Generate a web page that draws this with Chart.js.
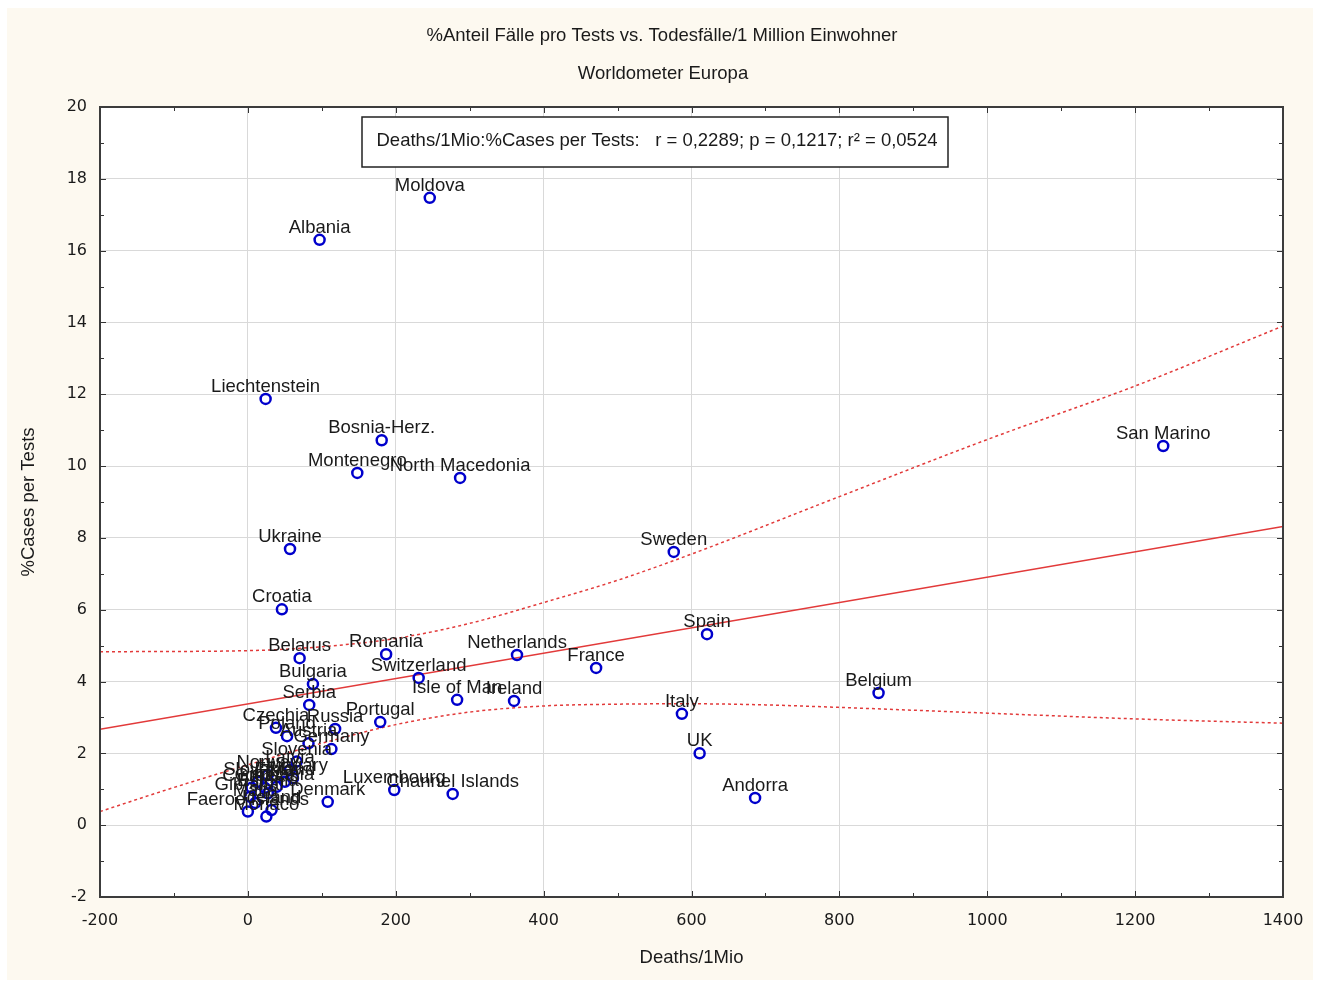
<!DOCTYPE html>
<html>
<head>
<meta charset="utf-8">
<script src="https://cdn.jsdelivr.net/npm/chart.js@4/dist/chart.umd.min.js"></script>
<style>
  html, body { margin: 0; padding: 0; background: #fff; }
  #wrap { width: 1320px; height: 981px; position: relative; }
</style>
</head>
<body>
<div id="wrap"><canvas id="chart"></canvas></div>
<script>
// Data
const countries = [
  'Moldova', 'Albania', 'Liechtenstein', 'Bosnia-Herz.', 'Montenegro', 'North Macedonia',
  'San Marino', 'Ukraine', 'Sweden', 'Croatia', 'Spain', 'Belarus', 'Romania', 'Netherlands',
  'France', 'Switzerland', 'Bulgaria', 'Belgium', 'Isle of Man', 'Ireland', 'Serbia', 'Italy',
  'Portugal', 'Czechia', 'Russia', 'Poland', 'Austria', 'Germany', 'UK', 'Andorra',
  'Luxembourg', 'Channel Islands', 'Denmark', 'Slovenia', 'Latvia', 'Hungary', 'Finland',
  'Norway', 'Slovakia', 'Lithuania', 'Greece', 'Cyprus', 'Estonia', 'Malta', 'Gibraltar',
  'Faeroe Islands', 'Iceland', 'Monaco'
];
const deathsPerMio = [
  246, 97, 24, 181, 148, 287,
  1238, 57, 576, 46, 621, 70, 187, 364,
  471, 231, 88, 853, 283, 360, 83, 587,
  179, 38, 118, 53, 82, 113, 611, 686,
  198, 277, 108, 66, 57, 61, 50,
  27, 14, 39, 23, 5, 27, 10, 3,
  0, 32, 25
];
const casesPerTests = [
  17.47, 16.30, 11.87, 10.72, 9.81, 9.67,
  10.56, 7.69, 7.61, 6.01, 5.32, 4.65, 4.76, 4.74,
  4.38, 4.10, 3.93, 3.68, 3.49, 3.46, 3.35, 3.10,
  2.87, 2.71, 2.68, 2.48, 2.28, 2.12, 2.00, 0.76,
  0.98, 0.87, 0.65, 1.77, 1.54, 1.31, 1.21,
  1.40, 1.21, 1.07, 1.04, 1.04, 0.89, 0.62, 0.79,
  0.38, 0.42, 0.24
];

// regression line and 95% band
const fitX = [-200, 1400];
const fitY = [2.67, 8.32];
const upperX = [-200, 0, 100, 200, 300, 400, 500, 600, 800, 1000, 1200, 1400];
const upperY = [4.83, 4.86, 4.97, 5.20, 5.62, 6.20, 6.82, 7.55, 9.15, 10.74, 12.23, 13.90];
const lowerX = [-200, -100, 0, 100, 200, 300, 400, 500, 600, 700, 800, 1000, 1200, 1400];
const lowerY = [0.38, 1.05, 1.68, 2.28, 2.80, 3.15, 3.32, 3.37, 3.38, 3.35, 3.28, 3.12, 2.96, 2.84];

const xTicks = { min: -200, max: 1400, step: 200, minor: 100 };
const yTicks = { min: -2, max: 20, step: 2, minor: 1 };

const chartTitle = '%Anteil Fälle pro Tests vs. Todesfälle/1 Million Einwohner';
const chartSubtitle = 'Worldometer Europa';
const xTitle = 'Deaths/1Mio';
const yTitle = '%Cases per Tests';
const statsText = 'Deaths/1Mio:%Cases per Tests:   r = 0,2289; p = 0,1217; r² = 0,0524';

const toPoints = (xs, ys) => xs.map((x, i) => ({ x: x, y: ys[i] }));

const decorPlugin = {
  id: 'decor',
  beforeDraw(chart) {
    const ctx = chart.ctx;
    const a = chart.chartArea;
    ctx.save();
    ctx.fillStyle = '#ffffff';
    ctx.fillRect(0, 0, chart.width, chart.height);
    ctx.fillStyle = '#fdf9f0';
    ctx.fillRect(7, 8, 1306, 972);
    ctx.fillStyle = '#ffffff';
    ctx.fillRect(a.left, a.top, a.right - a.left, a.bottom - a.top);
    ctx.restore();
  },
  afterDatasetsDraw(chart) {
    const ctx = chart.ctx;
    const meta = chart.getDatasetMeta(3);
    ctx.save();
    ctx.font = '18.5px "Liberation Sans", Arial, sans-serif';
    ctx.fillStyle = '#1a1a1a';
    ctx.textAlign = 'center';
    ctx.textBaseline = 'middle';
    meta.data.forEach((pt, i) => {
      ctx.fillText(countries[i], pt.x, pt.y - 12);
    });
    ctx.restore();
  },
  afterDraw(chart) {
    const ctx = chart.ctx;
    const a = chart.chartArea;
    const xs = chart.scales.x, ys = chart.scales.y;
    ctx.save();
    // inward ticks
    ctx.strokeStyle = '#333';
    ctx.lineWidth = 1;
    ctx.beginPath();
    for (let v = xTicks.min; v <= xTicks.max; v += xTicks.minor) {
      const px = Math.round(xs.getPixelForValue(v)) + 0.5;
      const len = (v % xTicks.step === 0) ? 6 : 4;
      ctx.moveTo(px, a.bottom); ctx.lineTo(px, a.bottom - len);
      ctx.moveTo(px, a.top); ctx.lineTo(px, a.top + len);
    }
    for (let v = yTicks.min; v <= yTicks.max; v += yTicks.minor) {
      const py = Math.round(ys.getPixelForValue(v)) + 0.5;
      const len = (v % yTicks.step === 0) ? 6 : 4;
      ctx.moveTo(a.left, py); ctx.lineTo(a.left + len, py);
      ctx.moveTo(a.right, py); ctx.lineTo(a.right - len, py);
    }
    ctx.stroke();
    // frame
    ctx.strokeStyle = '#3c3c3c';
    ctx.lineWidth = 2;
    ctx.strokeRect(a.left, a.top, a.right - a.left, a.bottom - a.top);

    // stats box
    ctx.fillStyle = '#ffffff';
    ctx.fillRect(362, 117, 586, 50);
    ctx.strokeStyle = '#222';
    ctx.lineWidth = 1.5;
    ctx.strokeRect(362, 117, 586, 50);
    ctx.fillStyle = '#1a1a1a';
    ctx.font = '18.5px "Liberation Sans", Arial, sans-serif';
    ctx.textAlign = 'center';
    ctx.textBaseline = 'middle';
    ctx.fillText(statsText, 657, 141);

    // titles
    ctx.font = '18.5px "Liberation Sans", Arial, sans-serif';
    ctx.fillText(chartTitle, 662, 36);
    ctx.fillText(chartSubtitle, 663, 74);
    ctx.font = '18.5px "Liberation Sans", Arial, sans-serif';
    ctx.fillText(xTitle, (a.left + a.right) / 2, 958);
    ctx.translate(29, (a.top + a.bottom) / 2);
    ctx.rotate(-Math.PI / 2);
    ctx.fillText(yTitle, 0, 0);
    ctx.restore();
  }
};

new Chart(document.getElementById('chart'), {
  type: 'scatter',
  data: {
    datasets: [
      {
        type: 'line', label: 'fit', data: toPoints(fitX, fitY),
        borderColor: '#e23a3a', borderWidth: 1.5, pointRadius: 0, fill: false, order: 2
      },
      {
        type: 'line', label: 'upper', data: toPoints(upperX, upperY),
        borderColor: '#e23a3a', borderWidth: 1.5, borderDash: [3, 3], pointRadius: 0,
        cubicInterpolationMode: 'monotone', fill: false, order: 2
      },
      {
        type: 'line', label: 'lower', data: toPoints(lowerX, lowerY),
        borderColor: '#e23a3a', borderWidth: 1.5, borderDash: [3, 3], pointRadius: 0,
        cubicInterpolationMode: 'monotone', fill: false, order: 2
      },
      {
        label: 'countries', data: toPoints(deathsPerMio, casesPerTests),
        pointStyle: 'circle', pointRadius: 5, borderWidth: 2.5,
        borderColor: '#0000cc', backgroundColor: 'rgba(255,255,255,0)', order: 1
      }
    ]
  },
  options: {
    responsive: true,
    maintainAspectRatio: false,
    animation: false,
    layout: { padding: { left: 0, top: 107, right: 37, bottom: 0 } },
    plugins: { legend: { display: false }, tooltip: { enabled: false }, title: { display: false } },
    scales: {
      x: {
        type: 'linear', min: xTicks.min, max: xTicks.max,
        afterFit: s => { s.height = 84; },
        grid: { color: '#d9d9d9', lineWidth: 1, drawTicks: false },
        border: { display: false },
        ticks: {
          stepSize: xTicks.step, padding: 14, color: '#1a1a1a',
          font: { family: '"DejaVu Sans", sans-serif', size: 16 },
          callback: v => String(v)
        }
      },
      y: {
        type: 'linear', min: yTicks.min, max: yTicks.max,
        afterFit: s => { s.width = 100; },
        grid: { color: '#d9d9d9', lineWidth: 1, drawTicks: false },
        border: { display: false },
        ticks: {
          stepSize: yTicks.step, padding: 13, color: '#1a1a1a',
          font: { family: '"DejaVu Sans", sans-serif', size: 16 },
          callback: v => String(v)
        }
      }
    }
  },
  plugins: [decorPlugin]
});
</script>
</body>
</html>
